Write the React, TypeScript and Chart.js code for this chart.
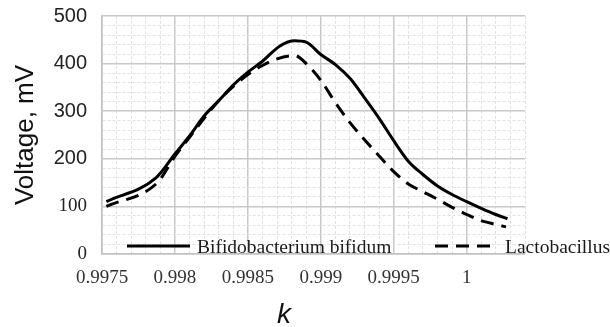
import React, { useEffect, useRef } from 'react';
import { Chart, registerables } from 'chart.js';

Chart.register(...registerables);

// ---- Data ----
const seriesNames = ['Bifidobacterium bifidum', 'Lactobacillus'];

const kBifido = [0.99753, 0.99787, 0.998, 0.9981, 0.9982, 0.9983, 0.9984, 0.9985, 0.9986, 0.99872, 0.99882, 0.9989, 0.999, 0.9991, 0.9992, 0.9993, 0.9994, 0.9995, 0.9996, 0.9997, 0.9998, 0.9999, 1.0, 1.0001, 1.0002, 1.00028];
const vBifido = [110, 160, 210, 248, 290, 322, 355, 382, 405, 437, 448, 445, 419, 398, 369, 328, 285, 238, 195, 167, 143, 125, 110, 96, 83, 74];

const kLacto = [0.99753, 0.99788, 0.998, 0.9981, 0.9982, 0.9983, 0.9984, 0.9985, 0.9986, 0.9987, 0.99882, 0.9989, 0.999, 0.9991, 0.9992, 0.9993, 0.9994, 0.9995, 0.9996, 0.9997, 0.9998, 0.9999, 1.0, 1.0001, 1.0002, 1.00027];
const vLacto = [100, 150, 205, 245, 285, 322, 352, 377, 396, 410, 417, 400, 365, 318, 276, 240, 206, 173, 147, 131, 115, 98, 83, 70, 62, 57];

const xMajorTicks = [0.9975, 0.998, 0.9985, 0.999, 0.9995, 1];
const xTickLabels = ['0.9975', '0.998', '0.9985', '0.999', '0.9995', '1'];
const yMajorTicks = [0, 100, 200, 300, 400, 500];
const yTickLabels = ['0', '100', '200', '300', '400', '500'];

const xMin = 0.9975;
const xMax = 1.0004;
const xMinorStep = 0.0001;
const yMin = 0;
const yMax = 500;
const yMinorStep = 20;

const xTitle = 'k';
const yTitle = 'Voltage, mV';

// ---- helpers ----
const near = (a: number, b: number, eps: number) => Math.abs(a - b) < eps;
const isMajorX = (v: any) => typeof v === 'number' && xMajorTicks.some((m) => near(m, v, 1e-7));
const isMajorY = (v: any) => typeof v === 'number' && yMajorTicks.some((m) => near(m, v, 1e-6));

const SERIF = '"Liberation Serif", "Times New Roman", serif';
const SANS = '"Liberation Sans", Arial, sans-serif';

const overlayPlugin = {
  id: 'overlayTexts',
  afterDraw(chart: any) {
    const { ctx, chartArea } = chart;
    const ds = chart.data.datasets;
    ctx.save();
    // legend inside plot, bottom
    const y = chartArea.bottom - 8;
    const items = [
      { x0: chartArea.left + 25, ds: ds[0] },
      { x0: chartArea.left + 333, ds: ds[1] },
    ];
    for (const it of items) {
      ctx.beginPath();
      ctx.lineWidth = it.ds.borderWidth;
      ctx.strokeStyle = it.ds.borderColor;
      ctx.setLineDash(it.ds.borderDash || []);
      ctx.moveTo(it.x0, y);
      ctx.lineTo(it.x0 + 63, y);
      ctx.stroke();
      ctx.setLineDash([]);
      ctx.fillStyle = '#1a1a1a';
      ctx.font = `19.5px ${SERIF}`;
      ctx.textAlign = 'left';
      ctx.textBaseline = 'alphabetic';
      ctx.fillText(it.ds.label, it.x0 + 70, y + 7);
    }
    // x axis title
    ctx.font = `italic 28px ${SANS}`;
    ctx.fillStyle = '#111';
    ctx.textAlign = 'center';
    ctx.textBaseline = 'alphabetic';
    ctx.fillText(xTitle, 284, 323);
    ctx.restore();
  },
};

export default function App() {
  const ref = useRef<HTMLCanvasElement | null>(null);

  useEffect(() => {
    if (!ref.current) return;
    const chart = new Chart(ref.current, {
      type: 'line',
      data: {
        datasets: [
          {
            label: seriesNames[0],
            data: kBifido.map((k, i) => ({ x: k, y: vBifido[i] })),
            borderColor: '#000',
            borderWidth: 3,
            borderDash: [],
            pointRadius: 0,
            cubicInterpolationMode: 'monotone',
            fill: false,
          },
          {
            label: seriesNames[1],
            data: kLacto.map((k, i) => ({ x: k, y: vLacto[i] })),
            borderColor: '#000',
            borderWidth: 3,
            borderDash: [13, 8],
            pointRadius: 0,
            cubicInterpolationMode: 'monotone',
            fill: false,
          },
        ],
      },
      options: {
        animation: false,
        responsive: false,
        layout: { padding: { top: 16, right: 85, left: 0, bottom: 0 } },
        plugins: { legend: { display: false }, tooltip: { enabled: false } },
        scales: {
          x: {
            type: 'linear',
            min: xMin,
            max: xMax,
            afterBuildTicks: (scale: any) => {
              const n = Math.round((xMax - xMin) / xMinorStep);
              const t = [];
              for (let i = 0; i <= n; i++) t.push({ value: +(xMin + i * xMinorStep).toFixed(6) });
              scale.ticks = t;
            },
            afterFit: (scale: any) => {
              scale.height = 73;
              scale.paddingLeft = 0;
              scale.paddingRight = 0;
            },
            ticks: {
              autoSkip: false,
              maxRotation: 0,
              minRotation: 0,
              padding: 13,
              color: '#333',
              font: { family: SERIF, size: 19 },
              callback: (value: any) => {
                const i = xMajorTicks.findIndex((m) => near(m, Number(value), 1e-7));
                return i >= 0 ? xTickLabels[i] : '';
              },
            },
            grid: {
              drawTicks: false,
              color: (c: any) => (isMajorX(c.tick?.value) ? '#c8c8c8' : '#e2e2e2'),
              lineWidth: (c: any) => (isMajorX(c.tick?.value) ? 1.5 : 1),
            },
            border: {
              display: true,
              color: '#c0c0c0',
              width: 1.5,
              dash: (c: any) => (c.tick && !isMajorX(c.tick.value) ? [3, 2] : []),
            },
          },
          y: {
            type: 'linear',
            min: yMin,
            max: yMax,
            afterBuildTicks: (scale: any) => {
              const n = Math.round((yMax - yMin) / yMinorStep);
              const t = [];
              for (let i = 0; i <= n; i++) t.push({ value: yMin + i * yMinorStep });
              scale.ticks = t;
            },
            afterFit: (scale: any) => {
              scale.width = 102;
              scale.paddingTop = 0;
              scale.paddingBottom = 0;
            },
            ticks: {
              autoSkip: false,
              padding: 15,
              color: '#222',
              font: (c: any) =>
                c.tick && c.tick.value >= 200 ? { family: SANS, size: 20 } : { family: SERIF, size: 19 },
              callback: (value: any) => {
                const i = yMajorTicks.findIndex((m) => near(m, Number(value), 1e-6));
                return i >= 0 ? yTickLabels[i] : '';
              },
            },
            title: {
              display: true,
              text: yTitle,
              color: '#111',
              font: { family: SANS, size: 26, lineHeight: 1 },
              padding: { top: 13, bottom: 0 },
            },
            grid: {
              drawTicks: false,
              color: (c: any) => (isMajorY(c.tick?.value) ? '#c8c8c8' : '#e2e2e2'),
              lineWidth: (c: any) => (isMajorY(c.tick?.value) ? 1.5 : 1),
            },
            border: {
              display: true,
              color: '#c0c0c0',
              width: 1.5,
              dash: (c: any) => (c.tick && !isMajorY(c.tick.value) ? [3, 2] : []),
            },
          },
        },
      } as any,
      plugins: [overlayPlugin],
    });
    return () => chart.destroy();
  }, []);

  return (
    <div style={{ position: 'absolute', left: 0, top: 0, width: 610, height: 327, background: '#fff' }}>
      <canvas ref={ref} width={610} height={327} style={{ display: 'block' }} />
    </div>
  );
}
